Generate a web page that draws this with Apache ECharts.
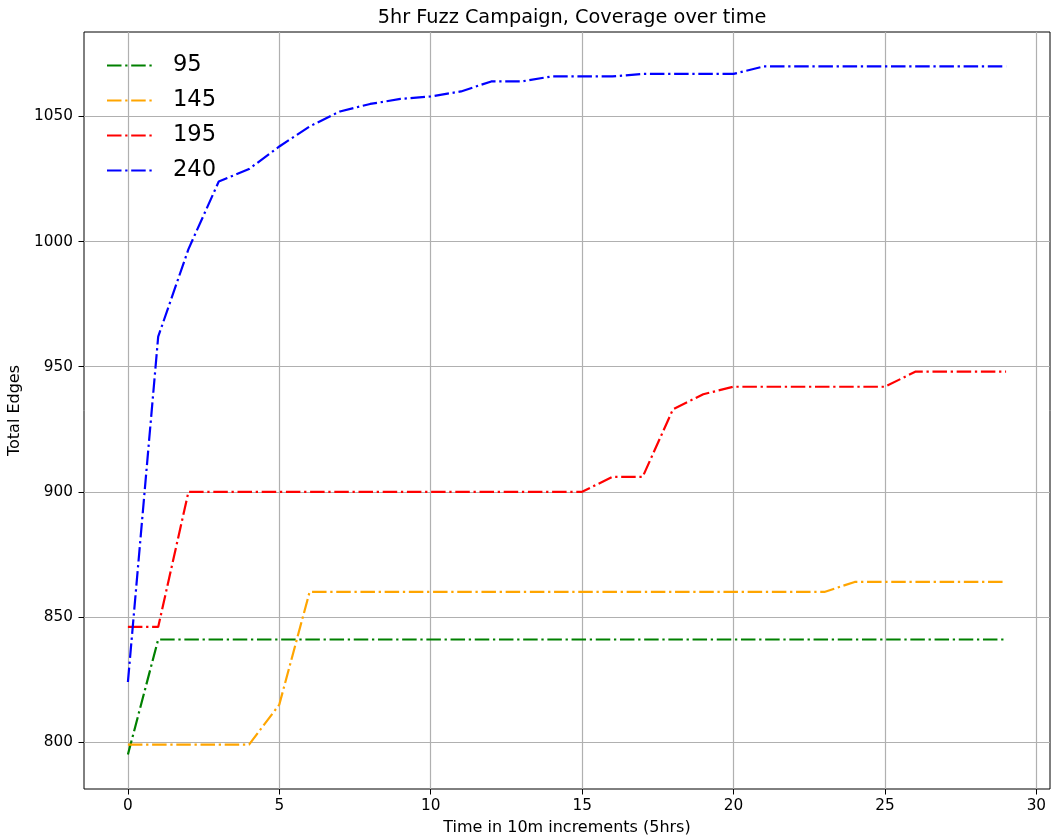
<!DOCTYPE html>
<html lang="en">
    <head>
        <meta charset="UTF-8" />
        <title>5hr Fuzz Campaign</title>
        <script src="https://cdnjs.cloudflare.com/ajax/libs/echarts/6.0.0/echarts.min.js"></script>
        <style>
            html, body { margin: 0; padding: 0; background: #fff; }
            #chart { width: 1051px; height: 839px; }
        </style>
    </head>
    <body>
        <div id="chart"></div>
        <script>
            // time steps (10 minute increments)
            const steps = [0, 1, 2, 3, 4, 5, 6, 7, 8, 9, 10, 11, 12, 13, 14, 15, 16, 17, 18, 19, 20, 21, 22, 23, 24, 25, 26, 27, 28, 29];

            // total edges per campaign
            const edges95 = [795, 841, 841, 841, 841, 841, 841, 841, 841, 841, 841, 841, 841, 841, 841, 841, 841, 841, 841, 841, 841, 841, 841, 841, 841, 841, 841, 841, 841, 841];
            const edges145 = [799, 799, 799, 799, 799, 815, 860, 860, 860, 860, 860, 860, 860, 860, 860, 860, 860, 860, 860, 860, 860, 860, 860, 860, 864, 864, 864, 864, 864, 864];
            const edges195 = [846, 846, 900, 900, 900, 900, 900, 900, 900, 900, 900, 900, 900, 900, 900, 900, 906, 906, 933, 939, 942, 942, 942, 942, 942, 942, 948, 948, 948, 948];
            const edges240 = [824, 962, 997, 1024, 1029, 1038, 1046, 1052, 1055, 1057, 1058, 1060, 1064, 1064, 1066, 1066, 1066, 1067, 1067, 1067, 1067, 1070, 1070, 1070, 1070, 1070, 1070, 1070, 1070, 1070];

            // tick labels
            const xTicks = [0, 5, 10, 15, 20, 25, 30];
            const yTicks = [800, 850, 900, 950, 1000, 1050];

            const names = ["95", "145", "195", "240"];
            const colors = ["#008000", "#ffa500", "#ff0000", "#0000ff"];
            const allEdges = [edges95, edges145, edges195, edges240];

            const font = "DejaVu Sans";
            const chart = echarts.init(document.getElementById("chart"));

            //build one dash-dot line per campaign
            const series = allEdges.map((vals, i) => ({
                name: names[i],
                type: "line",
                data: steps.map((s, j) => [s, vals[j]]),
                showSymbol: false,
                symbol: "none",
                color: colors[i],
                lineStyle: { width: 2.2, type: [14.5, 3.7, 2.3, 3.7] },
                emphasis: { disabled: true },
                animation: false,
            }));

            const tickText = { fontFamily: font, fontSize: 15.3, color: "#000" };
            const nameText = { fontFamily: font, fontSize: 16, color: "#000" };

            chart.setOption({
                animation: false,
                title: {
                    text: "5hr Fuzz Campaign, Coverage over time",
                    left: 567,
                    textAlign: "center",
                    top: 3,
                    textStyle: { fontFamily: font, fontSize: 19.3, fontWeight: "normal", color: "#000" },
                },
                legend: {
                    orient: "vertical",
                    left: 101,
                    top: 49,
                    itemWidth: 48,
                    itemHeight: 14,
                    itemGap: 12,
                    data: names,
                    itemStyle: { opacity: 0 },
                    textStyle: { fontFamily: font, fontSize: 22.6, color: "#000", padding: [0, 0, 0, 13] },
                },
                grid: {
                    left: 84,
                    right: 1,
                    top: 32,
                    bottom: 50,
                    show: true,
                    borderColor: "#000",
                    borderWidth: 1,
                    containLabel: false,
                    outerBoundsMode: "none",
                },
                xAxis: {
                    type: "value",
                    min: -1.45,
                    max: 30.45,
                    name: "Time in 10m increments (5hrs)",
                    nameLocation: "middle",
                    nameGap: 31,
                    nameTextStyle: nameText,
                    axisLine: { show: false, onZero: false },
                    axisTick: { show: true, length: 5.5, lineStyle: { color: "#000" }, customValues: xTicks },
                    axisLabel: Object.assign({ margin: 10, customValues: xTicks }, tickText),
                    splitLine: { show: true, lineStyle: { color: "#b0b0b0", width: 1.2 } },
                },
                yAxis: {
                    type: "value",
                    min: 781.25,
                    max: 1083.75,
                    name: "Total Edges",
                    nameLocation: "middle",
                    nameRotate: 90,
                    nameGap: 56,
                    nameTextStyle: nameText,
                    axisLine: { show: false, onZero: false },
                    axisTick: { show: true, length: 5.5, lineStyle: { color: "#000" }, customValues: yTicks },
                    axisLabel: Object.assign({ margin: 11, customValues: yTicks, formatter: v => String(v) }, tickText),
                    splitLine: { show: true, lineStyle: { color: "#b0b0b0", width: 1.2 } },
                },
                series: series,
            });
        </script>
    </body>
</html>
